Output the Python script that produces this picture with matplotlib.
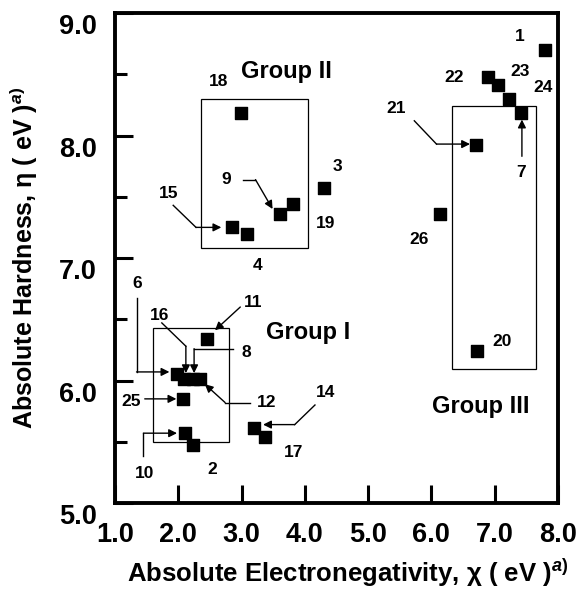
import matplotlib
matplotlib.use("Agg")
import matplotlib.pyplot as plt
import matplotlib.transforms as mtransforms
from matplotlib.patches import Rectangle

plt.rcParams['font.family'] = ['Liberation Sans', 'DejaVu Sans']
plt.rcParams['font.weight'] = 'bold'
plt.rcParams['mathtext.fontset'] = 'custom'
plt.rcParams['mathtext.it'] = 'Liberation Sans:italic:bold'
plt.rcParams['mathtext.rm'] = 'Liberation Sans:bold'

# compound numbers and their (chi, eta) values
ids = [1, 2, 3, 4, 6, 7, 8, 9, 10, 11, 12, 14, 15, 16, 17, 18, 19, 20, 21, 22, 23, 24, 25, 26]
chi = [7.80, 2.24, 4.31, 3.08, 1.98, 7.41, 2.24, 3.61, 2.11, 2.45, 2.35, 3.19, 2.85, 2.09,
       3.37, 2.99, 3.81, 6.72, 6.71, 6.90, 7.06, 7.23, 2.08, 6.13]
eta = [8.70, 5.47, 7.57, 7.20, 6.05, 8.18, 6.01, 7.36, 5.57, 6.34, 6.01, 5.61, 7.25, 6.01,
       5.54, 8.18, 7.44, 6.24, 7.92, 8.48, 8.41, 8.30, 5.85, 7.36]

x_ticks = [1.0, 2.0, 3.0, 4.0, 5.0, 6.0, 7.0, 8.0]
y_ticks = [5.0, 6.0, 7.0, 8.0, 9.0]

# where each number label sits
label_pos = {1: (7.40, 8.81), 2: (2.53, 5.27), 3: (4.51, 7.75), 4: (3.26, 6.94),
             6: (1.35, 6.79), 7: (7.42, 7.70), 8: (3.08, 6.23), 9: (2.76, 7.64),
             10: (1.47, 5.24), 11: (3.19, 6.64), 12: (3.39, 5.82), 14: (4.32, 5.90),
             15: (1.84, 7.53), 16: (1.71, 6.53), 17: (3.82, 5.41), 18: (2.63, 8.44),
             19: (4.32, 7.28), 20: (7.11, 6.32), 21: (5.45, 8.22), 22: (6.36, 8.47),
             23: (7.40, 8.52), 24: (7.76, 8.39), 25: (1.25, 5.83), 26: (5.81, 7.15)}

# leader lines: list of points, the last segment gets the arrow head
leaders = [
    [(3.03, 7.64), (3.22, 7.64), (3.49, 7.40)],
    [(1.92, 7.43), (2.28, 7.25), (2.68, 7.25)],
    [(5.73, 8.12), (6.08, 7.93), (6.61, 7.93)],
    [(7.43, 7.83), (7.43, 8.13)],
    [(2.98, 6.60), (2.58, 6.41)],
    [(1.34, 6.67), (1.34, 6.07), (1.86, 6.07)],
    [(1.74, 6.47), (2.12, 6.28), (2.12, 6.06)],
    [(2.87, 6.26), (2.25, 6.26), (2.25, 6.06)],
    [(3.13, 5.82), (2.74, 5.82), (2.42, 5.97)],
    [(1.47, 5.85), (1.97, 5.85)],
    [(1.45, 5.38), (1.45, 5.57), (1.98, 5.57)],
    [(4.16, 5.80), (3.84, 5.64), (3.34, 5.64)],
]

groups = [("Group I", (1.60, 5.50, 2.80, 6.43), (4.05, 6.39)),
          ("Group II", (2.36, 7.08, 4.05, 8.30), (3.71, 8.52)),
          ("Group III", (6.33, 6.09, 7.66, 8.24), (6.78, 5.79))]

fig = plt.figure(figsize=(5.79, 5.91), dpi=100)
ax = fig.add_axes([0.1986, 0.1489, 0.7651, 0.8291])

ax.scatter(chi, eta, marker='s', s=85, color='black', zorder=3)

for n in ids:
    lx, ly = label_pos[n]
    ax.text(lx, ly, str(n), fontsize=12.5, fontweight='bold', ha='center', va='center')

for pts in leaders:
    if len(pts) > 2:
        ax.plot([p[0] for p in pts[:-1]], [p[1] for p in pts[:-1]], color='black', lw=1)
    ax.annotate('', xy=pts[-1], xytext=pts[-2],
                arrowprops=dict(arrowstyle='-|>', color='black', lw=1,
                                mutation_scale=12, shrinkA=0, shrinkB=0))

for name, (x0, y0, x1, y1), (tx, ty) in groups:
    ax.add_patch(Rectangle((x0, y0), x1 - x0, y1 - y0, fill=False, ec='black', lw=0.9))
    ax.text(tx, ty, name, fontsize=17, fontweight='bold', ha='center', va='center')

ax.set_xlim(1.0, 8.0)
ax.set_ylim(5.0, 9.0)
ax.set_xticks(x_ticks)
ax.set_xticklabels([f"{v:.1f}" for v in x_ticks])
ax.set_yticks(y_ticks)
ax.set_yticklabels([f"{v:.1f}" for v in y_ticks])
ax.set_yticks([5.5, 6.5, 7.5, 8.5], minor=True)

for s in ax.spines.values():
    s.set_linewidth(2.8)
ax.tick_params(which='major', direction='in', length=13, width=2.2, labelsize=19.5)
ax.tick_params(axis='x', which='major', pad=14)
ax.tick_params(axis='y', which='major', pad=13)
ax.tick_params(which='minor', direction='in', length=8.5, width=2.2)
for lab in ax.get_xticklabels() + ax.get_yticklabels():
    lab.set_fontweight('bold')
shift = mtransforms.ScaledTranslation(0, -8 / 72, fig.dpi_scale_trans)
for lab in ax.get_yticklabels():
    lab.set_transform(lab.get_transform() + shift)

ax.set_xlabel("Absolute Electronegativity, χ ( eV )$^{\\mathit{a)}}$", fontsize=18.5,
              fontweight='bold', labelpad=6, x=0.526)
ax.set_ylabel("Absolute Hardness, η ( eV )$^{\\mathit{a)}}$", fontsize=18,
              fontweight='bold', labelpad=14)

fig.savefig("out.png", dpi=100)
